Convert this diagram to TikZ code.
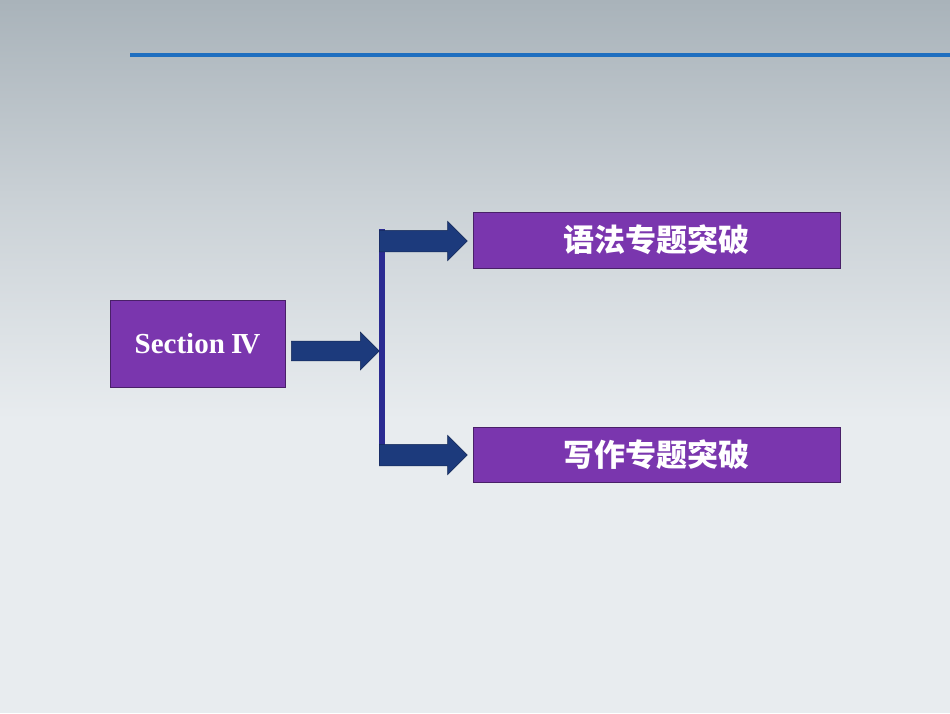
\documentclass[tikz,border=0pt]{standalone}
\usepackage{fontspec}
\setmainfont{Liberation Serif}
\newfontfamily\cjk{Noto Sans CJK SC}
\usetikzlibrary{shapes.arrows}
\definecolor{bgtop}{HTML}{A9B3BA}
\definecolor{bgbot}{HTML}{E8ECEF}
\definecolor{purp}{HTML}{7A36AE}
\definecolor{arr}{HTML}{1C3A7C}
\definecolor{bar}{HTML}{2B2B92}
\definecolor{line}{HTML}{1F6FC0}
\tikzset{
 box/.style={draw=purp!60!black, line width=0.8pt, fill=purp, text=white, inner sep=0pt},
 arw/.style={single arrow, fill=arr, draw=arr!70!black, line width=0.5pt, inner sep=0pt,
   single arrow head extend=9pt, single arrow tip angle=90, anchor=west}
}
\begin{document}
\begin{tikzpicture}[x=1pt,y=-1pt]
\useasboundingbox (0,0) rectangle (950,713);
\shade[top color=bgtop, bottom color=bgbot, middle color=bgbot!55!bgtop] (0,0) rectangle (950,420);
\fill[bgbot] (0,419) rectangle (950,713);
\coordinate (l1) at (130,55); \coordinate (l2) at (950,55);
\draw[line, line width=3.2pt] (l1) -- (l2);
\node[box, minimum width=175pt, minimum height=87pt, font=\bfseries\fontsize{29}{32}\selectfont] (sec) at (197.5,343.5) {Section \kern-1pt I\kern-3pt V};
\node[box, minimum width=367pt, minimum height=56pt, font=\cjk\bfseries\fontsize{31}{34}\selectfont] (g) at (656.5,240) {语法专题突破};
\node[box, minimum width=367pt, minimum height=55pt, font=\cjk\bfseries\fontsize{31}{34}\selectfont] (w) at (656.5,454.5) {写作专题突破};
\fill[bar] (379,229) rectangle (385,465);
\coordinate (bt) at (379,241);
\coordinate (bb) at (379,455);
\node[arw, minimum height=88pt, minimum width=38pt, inner ysep=9.5pt] (a0) at (291,351) {};
\node[arw, minimum height=88pt, minimum width=38pt, inner ysep=10.5pt] (a1) at (bt) {};
\node[arw, minimum height=88pt, minimum width=38pt, inner ysep=10.5pt] (a2) at (bb) {};
\end{tikzpicture}
\end{document}
